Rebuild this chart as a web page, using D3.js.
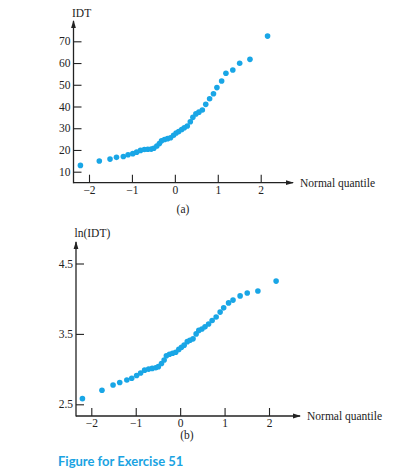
<!DOCTYPE html>
<html>
<head>
<meta charset="utf-8">
<script src="https://cdn.jsdelivr.net/npm/d3@7"></script>
<style>
  body { margin: 0; background: #fff; }
  svg text { font-family: "Liberation Serif", "DejaVu Serif", serif; fill: #222; }
</style>
</head>
<body>
<div id="chart"></div>
<script>
// normal quantiles (shared by both plots)
const quantiles = [-2.20, -1.76, -1.51, -1.36, -1.20, -1.09, -0.98, -0.89, -0.80, -0.71,
    -0.63, -0.55, -0.49, -0.42, -0.36, -0.31, -0.24, -0.17, -0.10, -0.03,
    0.03, 0.09, 0.16, 0.22, 0.29, 0.36, 0.42, 0.49, 0.56, 0.64,
    0.72, 0.81, 0.90, 0.98, 1.09, 1.19, 1.35, 1.51, 1.75, 2.16]

// (a) IDT
const idt = [12.9, 14.9, 15.8, 16.6, 17.0, 17.8, 18.3, 19.0, 19.8, 20.2,
    20.3, 20.4, 20.8, 21.8, 23.0, 24.2, 24.8, 25.2, 25.6, 26.8,
    27.8, 28.5, 29.4, 30.2, 31.0, 33.0, 35.0, 36.6, 37.4, 38.4,
    41.0, 43.6, 45.9, 48.7, 51.7, 55.3, 56.8, 59.9, 61.7, 72.4]

// (b) ln(IDT)
const lnIdt = [2.58, 2.70, 2.775, 2.81, 2.845, 2.87, 2.91, 2.945, 2.985, 3.00,
    3.01, 3.02, 3.035, 3.08, 3.13, 3.19, 3.21, 3.225, 3.24, 3.28,
    3.31, 3.34, 3.39, 3.41, 3.43, 3.50, 3.55, 3.57, 3.60, 3.64,
    3.69, 3.74, 3.81, 3.87, 3.94, 3.98, 4.04, 4.08, 4.11, 4.25]

const xTicks = [-2, -1, 0, 1, 2]
const idtTicks = [10, 20, 30, 40, 50, 60, 70]
const lnTicks = [2.5, 3.5, 4.5]

const dotColor = "#19a6e6"
const axisColor = "#222"

const svg = d3.select("#chart")
    .append("svg")
    .attr("width", 397)
    .attr("height", 472)

svg.append("defs").append("marker")
    .attr("id", "arrow")
    .attr("viewBox", "0 0 8 6")
    .attr("refX", 7)
    .attr("refY", 3)
    .attr("markerWidth", 8)
    .attr("markerHeight", 6)
    .attr("markerUnits", "userSpaceOnUse")
    .attr("orient", "auto")
    .append("path")
    .attr("d", "M0,0.6 L8,3 L0,5.4 Z")
    .attr("fill", axisColor)

function drawPanel(p) {
    const g = svg.append("g")

    const xScale = d3.scaleLinear()
        .domain([-2, 2])
        .range(p.xRange)

    const yScale = d3.scaleLinear()
        .domain(p.yDomain)
        .range(p.yRange)

    // axis lines with arrows
    g.append("line")
        .attr("x1", p.axisX).attr("x2", p.arrowX)
        .attr("y1", p.axisY).attr("y2", p.axisY)
        .attr("stroke", axisColor).attr("stroke-width", 1.3)
        .attr("marker-end", "url(#arrow)")

    g.append("line")
        .attr("x1", p.axisX).attr("x2", p.axisX)
        .attr("y1", p.axisY + 0.6).attr("y2", p.arrowY)
        .attr("stroke", axisColor).attr("stroke-width", 1.3)
        .attr("marker-end", "url(#arrow)")

    const xAxis = d3.axisBottom(xScale)
        .tickValues(xTicks)
        .tickFormat(d3.format("d"))
        .tickSizeInner(-8)
        .tickSizeOuter(0)
        .tickPadding(3)

    const yAxis = d3.axisLeft(yScale)
        .tickValues(p.yTicks)
        .tickFormat(p.yFormat)
        .tickSizeInner(-8)
        .tickSizeOuter(0)
        .tickPadding(3)

    const gx = g.append("g")
        .attr("transform", `translate(0, ${p.axisY})`)
        .call(xAxis)

    const gy = g.append("g")
        .attr("transform", `translate(${p.axisX}, 0)`)
        .call(yAxis)

    ;[gx, gy].forEach(a => {
        a.select(".domain").remove()
        a.selectAll(".tick line").attr("stroke", axisColor).attr("stroke-width", 1.1)
        a.selectAll(".tick text")
            .attr("fill", axisColor)
            .style("font-size", "11.5px")
            .style("font-family", "'Liberation Serif', serif")
    })

    // points
    g.append("g")
        .selectAll("circle")
        .data(quantiles.map((q, i) => ({ q, v: p.values[i] })))
        .join("circle")
        .attr("cx", d => xScale(d.q))
        .attr("cy", d => yScale(d.v))
        .attr("r", 2.8)
        .attr("fill", dotColor)

    g.append("text")
        .attr("x", p.axisX - 1.5)
        .attr("y", p.yLabelY)
        .style("font-size", "11.5px")
        .text(p.yLabel)

    g.append("text")
        .attr("x", p.arrowX + 7)
        .attr("y", p.axisY + 4)
        .style("font-size", "11.5px")
        .text("Normal quantile")

    g.append("text")
        .attr("x", p.captionX)
        .attr("y", p.captionY)
        .attr("text-anchor", "middle")
        .style("font-size", "11.5px")
        .text(p.caption)
}

drawPanel({
    values: idt,
    xRange: [89, 260.7],
    yDomain: [10, 70],
    yRange: [171.7, 41.3],
    yTicks: idtTicks,
    yFormat: d3.format("d"),
    axisX: 73.5,
    axisY: 182.7,
    arrowX: 293,
    arrowY: 21,
    yLabel: "IDT",
    yLabelY: 16.5,
    caption: "(a)",
    captionX: 183,
    captionY: 212.5
})

drawPanel({
    values: lnIdt,
    xRange: [91.3, 269],
    yDomain: [2.5, 4.5],
    yRange: [404.3, 263.5],
    yTicks: lnTicks,
    yFormat: d3.format(".1f"),
    axisX: 76,
    axisY: 416,
    arrowX: 300,
    arrowY: 242,
    yLabel: "ln(IDT)",
    yLabelY: 236.5,
    caption: "(b)",
    captionX: 187,
    captionY: 439
})

svg.append("text")
    .attr("x", 58)
    .attr("y", 466)
    .style("font-family", "Lato, 'Open Sans', sans-serif")
    .style("font-weight", "bold")
    .style("font-size", "13px")
    .style("fill", "#1aa3e2")
    .text("Figure for Exercise 51")
</script>
</body>
</html>
